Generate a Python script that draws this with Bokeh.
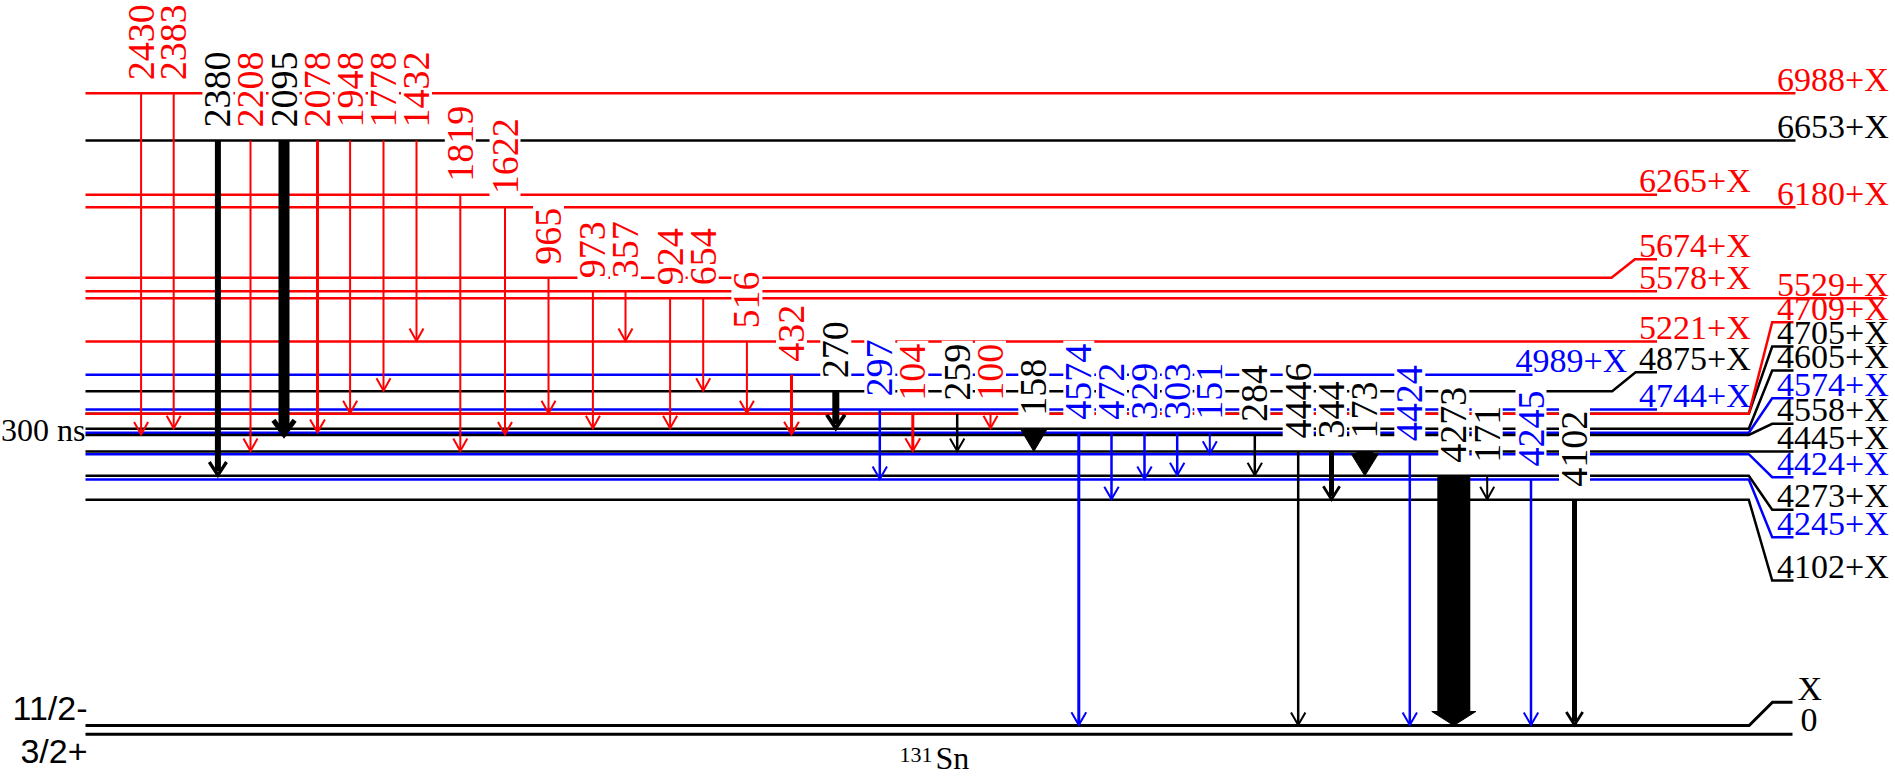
import math
from bokeh.plotting import figure
from bokeh.models import Range1d
from bokeh.core.properties import value
from bokeh.embed import file_html
from bokeh.resources import INLINE

RED, BLACK, BLUE = "#ff0000", "#000000", "#0000ff"

# ---------------- data: levels ----------------
level_key = ["6988", "6653", "6265", "6180", "5674", "5578", "5529", "5221", "4989", "4875",
             "4744", "4705", "4709", "4605", "4574", "4558", "4445", "4424", "4273", "4245",
             "4102", "X", "0"]
level_text = ["6988+X", "6653+X", "6265+X", "6180+X", "5674+X", "5578+X", "5529+X", "5221+X",
              "4989+X", "4875+X", "4744+X", "4705+X", "4709+X", "4605+X", "4574+X", "4558+X",
              "4445+X", "4424+X", "4273+X", "4245+X", "4102+X", "X", "0"]
level_color = [RED, BLACK, RED, RED, RED, RED, RED, RED, BLUE, BLACK,
               BLUE, BLACK, RED, BLACK, BLUE, BLACK, BLACK, BLUE, BLACK, BLUE,
               BLACK, BLACK, BLACK]

# layout of the (schematic) level scheme
level_y = [92.7, 140, 194.3, 206.7, 277.3, 290.7, 297.7, 341, 374.3, 390.7,
           409, 413.3, 413.3, 428.3, 432.3, 434.5, 451, 453.7, 475.3, 479,
           499.3, 725, 733.7]
level_xbreak = [1795, 1795, 1656.5, 1795, 1611, 1656.5, 1883, 1656.5, 1532, 1611.7,
                1656.5, 1748.3, 1748.3, 1748.3, 1748.3, 1748.3, 1793, 1748.3, 1748.3, 1748.3,
                1748.3, 1748.6, 1792]
level_label_line_y = [92.7, 140, 194.3, 206.7, 258.7, 290.7, 297.7, 341, 374.3, 371.7,
                      409, 346, 321.7, 370, 397.7, 423.3, 451, 476.7, 509.3, 536.7,
                      580, 701.7, 733.7]
level_xend = [1795, 1795, 1656.5, 1795, 1656.5, 1656.5, 1883, 1656.5, 1532, 1656.5,
              1656.5, 1793, 1793, 1793, 1793, 1793, 1793, 1793, 1793, 1793,
              1793, 1792, 1792]
level_label_x = [1776.5, 1776.5, 1638.5, 1776.5, 1638.5, 1638.5, 1776.5, 1638.5, 1515, 1638.5,
                 1638.5, 1776.5, 1776.5, 1776.5, 1776.5, 1776.5, 1776.5, 1776.5, 1776.5, 1776.5,
                 1776.5, 1797, 1800]
LEVEL_X0 = 85

# ---------------- data: gamma transitions ----------------
gam_label = ["2430", "2383", "2380", "2208", "2095", "2078", "1948", "1778", "1432", "1819",
             "1622", "965", "973", "357", "924", "654", "516", "432", "270", "297",
             "104", "259", "100", "158", "4574", "472", "329", "303", "151", "284",
             "4446", "344", "173", "4424", "4273", "171", "4245", "4102"]
gam_from = ["6988", "6988", "6653", "6653", "6653", "6653", "6653", "6653", "6653", "6265",
            "6180", "5674", "5578", "5578", "5529", "5529", "5221", "4989", "4875", "4744",
            "4709", "4705", "4709", "4605", "4574", "4574", "4574", "4574", "4574", "4558",
            "4445", "4445", "4445", "4424", "4273", "4273", "4245", "4102"]
gam_to = ["4558", "4605", "4273", "4445", "4558", "4574", "4705", "4875", "5221", "4445",
          "4558", "4709", "4605", "5221", "4605", "4875", "4705", "4558", "4605", "4245",
          "4445", "4445", "4605", "4445", "X", "4102", "4245", "4273", "4424", "4273",
          "X", "4102", "4273", "X", "X", "4102", "X", "X"]
gam_color = [RED, RED, BLACK, RED, BLACK, RED, RED, RED, RED, RED,
             RED, RED, RED, RED, RED, RED, RED, RED, BLACK, BLUE,
             RED, BLACK, RED, BLACK, BLUE, BLUE, BLUE, BLUE, BLUE, BLACK,
             BLACK, BLACK, BLACK, BLUE, BLACK, BLACK, BLUE, BLACK]
# layout / intensity widths
gam_x = [140.6, 173.2, 217.4, 250, 283.5, 317, 349.6, 383, 416, 459.8,
         504.5, 548, 592.4, 625, 669.6, 702.7, 746.4, 791, 835.3, 879.3,
         912.3, 956.7, 990, 1033.3, 1078.3, 1111, 1144, 1176.7, 1209.3, 1254.3,
         1297.7, 1331, 1364.3, 1409.3, 1453.3, 1486.7, 1530.5, 1574]
gam_w = [2, 2, 6, 2, 11, 3, 2, 2, 2, 2,
         2, 2, 2, 2, 2, 2, 2, 3, 7, 2.5,
         3, 2.5, 2, 12, 3, 2.5, 2.5, 2.5, 2, 2.5,
         2.5, 5, 17, 2.5, 33, 2, 2.5, 5]

ymap = dict(zip(level_key, level_y))

p = figure(width=1895, height=779, x_range=Range1d(0, 1895), y_range=Range1d(779, 0),
           output_backend="svg", toolbar_location=None, min_border=0,
           x_axis_location=None, y_axis_location=None)
p.grid.visible = False
p.outline_line_color = None
p.background_fill_color = "white"
p.border_fill_color = "white"

SERIF = value("Liberation Serif")


def hcenter(baseline, fs, k=0.34):
    """vertical centre of digit glyphs sitting on a given baseline"""
    return baseline - k * fs


# ---- levels ----
xs, ys, lw = [], [], []
for i, k in enumerate(level_key):
    y = level_y[i]
    xb = level_xbreak[i]
    ly = level_label_line_y[i]
    if abs(ly - y) > 0.1:
        xs.append([LEVEL_X0, xb, xb + 23.4, level_xend[i]])
        ys.append([y, y, ly, ly])
    else:
        xs.append([LEVEL_X0, level_xend[i]])
        ys.append([y, y])
    lw.append(3 if k in ("X", "0") else 2.5)
p.multi_line(xs=xs, ys=ys, line_color=level_color, line_width=lw, line_join="miter")

LFS = 34
p.text(x=level_label_x, y=[hcenter(v - 2.5, LFS) for v in level_label_line_y], text=level_text,
       text_color=level_color, text_font=SERIF, text_font_size=value(f"{LFS}px"),
       text_align="left", text_baseline="middle")

# ---- gamma labels with white backgrounds ----
FS = 38
GAP = 13
lab_y = [ymap[f] - GAP for f in gam_from]
lab_len = [0.5 * FS * len(t) for t in gam_label]
p.rect(x=gam_x, y=[ly - L / 2 for ly, L in zip(lab_y, lab_len)], width=31,
       height=[L + 6 for L in lab_len], fill_color="white", line_color=None)
p.text(x=gam_x, y=lab_y, text=gam_label, angle=math.pi / 2, text_color=gam_color,
       text_font=SERIF, text_font_size=value(f"{FS}px"), text_align="left",
       text_baseline="middle")

# ---- gamma arrows ----
sx0, sy0, sx1, sy1, scol, sw = [], [], [], [], [], []
vx, vy, vcol, vw = [], [], [], []
tx, ty, tcol = [], [], []
for x, f, t, c, w in zip(gam_x, gam_from, gam_to, gam_color, gam_w):
    y0, y1 = ymap[f], ymap[t]
    if w >= 12:
        hw = 22 if w > 25 else max(13, 0.8 * w)
        hl = 14 if w > 25 else 22
        tx.append([x - hw, x, x + hw]); ty.append([y1 - hl, y1, y1 - hl]); tcol.append(c)
        end = y1 - hl + 1
    else:
        hlw = max(2.0, min(0.55 * w, 5))
        hw = 7 + 0.4 * (w - 2)
        hl = 13 + 0.2 * (w - 2)
        vx.append([x - hw, x, x + hw]); vy.append([y1 - hl, y1 - 0.5, y1 - hl])
        vcol.append(c); vw.append(hlw)
        end = y1 - 1 - (hlw if w > 3 else 0)
    sx0.append(x); sy0.append(y0); sx1.append(x); sy1.append(end); scol.append(c); sw.append(w)

p.segment(x0=sx0, y0=sy0, x1=sx1, y1=sy1, line_color=scol, line_width=sw, line_cap="butt")
p.multi_line(xs=vx, ys=vy, line_color=vcol, line_width=vw, line_join="miter")
p.patches(xs=tx, ys=ty, fill_color=tcol, line_color=tcol, line_width=1)

# ---- other texts ----
p.text(x=[85], y=[hcenter(440, 32)], text=["300 ns"], text_font=SERIF,
       text_font_size=value("32px"), text_align="right", text_baseline="middle",
       text_color="black")
p.text(x=[87, 87], y=[hcenter(720, 34, 0.36), hcenter(763, 34, 0.36)], text=["11/2-", "3/2+"],
       text_font=value("Liberation Sans"), text_font_size=value("34px"), text_align="right",
       text_baseline="middle", text_color="black")
p.text(x=[899], y=[hcenter(762, 22)], text=["131"], text_font=SERIF,
       text_font_size=value("22px"), text_align="left", text_baseline="middle",
       text_color="black")
p.text(x=[935], y=[hcenter(768, 32)], text=["Sn"], text_font=SERIF,
       text_font_size=value("32px"), text_align="left", text_baseline="middle",
       text_color="black")

open("out.html", "w").write(file_html(p, INLINE))
